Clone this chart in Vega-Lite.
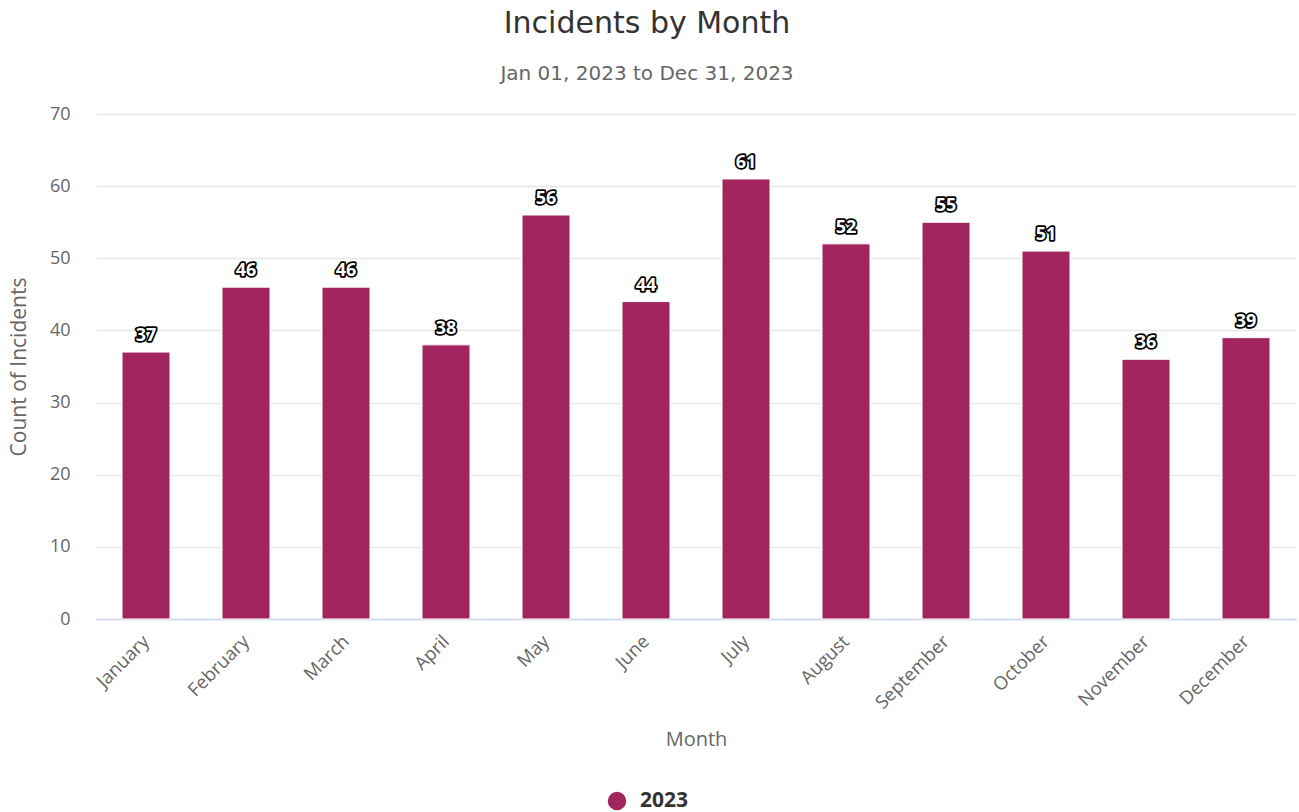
{
  "$schema": "https://vega.github.io/schema/vega-lite/v6.json",
  "width": 1200,
  "height": 505,
  "autosize": {"type": "none"},
  "padding": {"left": 96, "top": 114, "right": 3, "bottom": 193},
  "background": "white",
  "config": {"view": {"stroke": null}},
  "title": {
    "text": "Incidents by Month",
    "subtitle": "Jan 01, 2023 to Dec 31, 2023",
    "anchor": "middle",
    "dx": -49,
    "offset": 21,
    "font": "DejaVu Sans",
    "fontSize": 30,
    "fontWeight": "normal",
    "color": "#333333",
    "subtitleFont": "DejaVu Sans",
    "subtitleFontSize": 20,
    "subtitleColor": "#666666",
    "subtitlePadding": 25
  },
  "data": {
    "values": [
      {"month": "January", "count": 37, "year": "2023"},
      {"month": "February", "count": 46, "year": "2023"},
      {"month": "March", "count": 46, "year": "2023"},
      {"month": "April", "count": 38, "year": "2023"},
      {"month": "May", "count": 56, "year": "2023"},
      {"month": "June", "count": 44, "year": "2023"},
      {"month": "July", "count": 61, "year": "2023"},
      {"month": "August", "count": 52, "year": "2023"},
      {"month": "September", "count": 55, "year": "2023"},
      {"month": "October", "count": 51, "year": "2023"},
      {"month": "November", "count": 36, "year": "2023"},
      {"month": "December", "count": 39, "year": "2023"}
    ]
  },
  "encoding": {
    "x": {
      "field": "month",
      "type": "nominal",
      "sort": null,
      "title": "Month",
      "scale": {"paddingInner": 0.52, "paddingOuter": 0.26},
      "axis": {
        "labelAngle": -45,
        "labelAlign": "right",
        "labelBaseline": "middle",
        "labelFont": "Open Sans",
        "labelFontSize": 18.5,
        "labelColor": "#666666",
        "labelPadding": 19,
        "ticks": false,
        "domainColor": "#ccd6eb",
        "domainWidth": 1.5,
        "titleFont": "Open Sans",
        "titleFontSize": 20,
        "titleFontWeight": "normal",
        "titleColor": "#666666",
        "titlePadding": 17
      }
    },
    "y": {
      "field": "count",
      "type": "quantitative",
      "title": "Count of Incidents",
      "scale": {"domain": [0, 70]},
      "axis": {
        "values": [0, 10, 20, 30, 40, 50, 60, 70],
        "labelFont": "Open Sans",
        "labelFontSize": 18,
        "labelColor": "#666666",
        "labelPadding": 26,
        "ticks": false,
        "domain": false,
        "gridColor": "#e6e6e6",
        "gridWidth": 1.5,
        "titleFont": "Open Sans",
        "titleFontSize": 21,
        "titleFontWeight": "normal",
        "titleColor": "#666666",
        "titlePadding": 20
      }
    }
  },
  "layer": [
    {
      "mark": {"type": "bar", "stroke": "white", "strokeWidth": 1},
      "encoding": {
        "color": {
          "field": "year",
          "type": "nominal",
          "title": null,
          "scale": {"range": ["#a3255f"]},
          "legend": {
            "orient": "none",
            "legendX": 510,
            "legendY": 676,
            "direction": "horizontal",
            "symbolType": "circle",
            "symbolSize": 400,
            "symbolOpacity": 1,
            "labelFont": "Open Sans",
            "labelFontSize": 21,
            "labelFontWeight": "bold",
            "labelColor": "#333333",
            "labelOffset": 12
          }
        }
      }
    },
    {
      "mark": {
        "type": "text",
        "dy": -16,
        "font": "Open Sans",
        "fontSize": 18,
        "fontWeight": "bold",
        "stroke": "black",
        "strokeWidth": 3.5,
        "strokeJoin": "round",
        "fill": "black"
      },
      "encoding": {"text": {"field": "count", "type": "quantitative"}}
    },
    {
      "mark": {
        "type": "text",
        "dy": -16,
        "font": "Open Sans",
        "fontSize": 18,
        "fontWeight": "bold",
        "fill": "white"
      },
      "encoding": {"text": {"field": "count", "type": "quantitative"}}
    }
  ]
}
